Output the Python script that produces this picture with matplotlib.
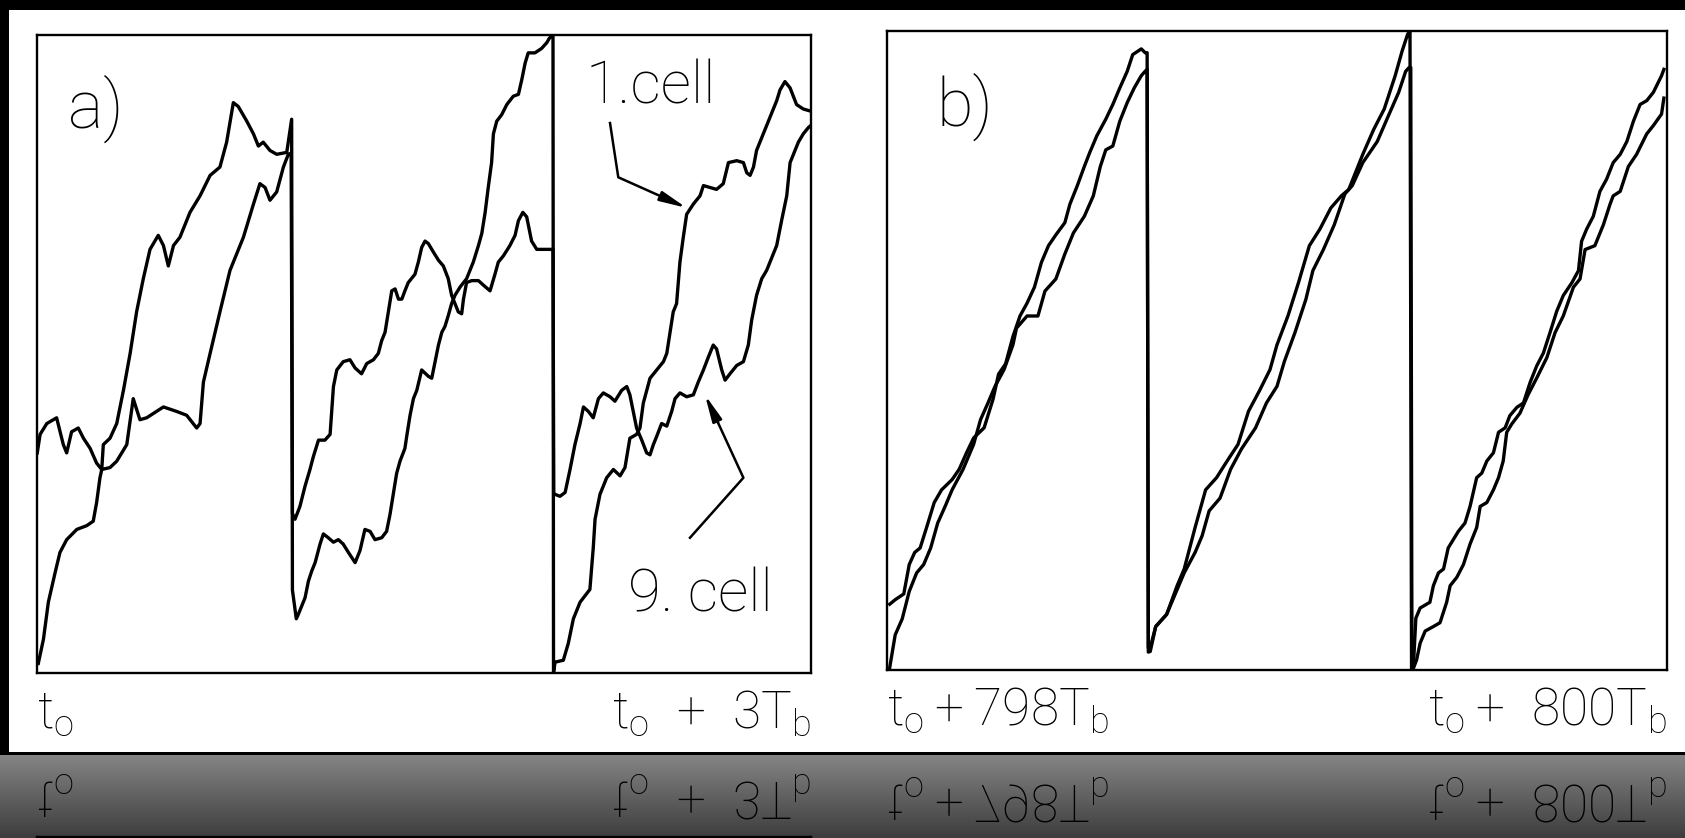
import numpy as np
import matplotlib
matplotlib.use("Agg")
import matplotlib.pyplot as plt
from matplotlib.patches import Rectangle

plt.rcParams['font.family'] = ['Roboto', 'DejaVu Sans']
plt.rcParams['font.weight'] = 'light'
plt.rcParams['mathtext.default'] = 'regular'

W, H, DPI = 1685, 838, 100

# ---------------- panel a: phase of cell 1 and cell 9, t in units of T_b ----------------
a_cell1_t = [0.005, 0.025, 0.044, 0.070, 0.089, 0.115, 0.154, 0.193, 0.218, 0.231,
             0.244, 0.251, 0.257, 0.283, 0.309, 0.335, 0.361, 0.386, 0.412, 0.438,
             0.470, 0.490, 0.509, 0.529, 0.554, 0.593, 0.632, 0.671, 0.709, 0.735,
             0.761, 0.780, 0.813, 0.839, 0.858, 0.877, 0.903, 0.929, 0.968, 0.987,
             0.990, 1.005, 1.013, 1.019, 1.039, 1.052, 1.065, 1.078, 1.097, 1.110,
             1.129, 1.149, 1.168, 1.187, 1.207, 1.233, 1.252, 1.271, 1.291, 1.310,
             1.336, 1.355, 1.368, 1.381, 1.394, 1.407, 1.426, 1.433, 1.446, 1.459,
             1.472, 1.491, 1.517, 1.530, 1.543, 1.556, 1.569, 1.581, 1.594, 1.607,
             1.620, 1.640, 1.665, 1.691, 1.711, 1.724, 1.737, 1.749, 1.762, 1.769,
             1.782, 1.801, 1.821, 1.846, 1.866, 1.879, 1.892, 1.904, 1.930, 1.956,
             1.976, 1.986, 2.000,
             2.002, 2.008, 2.040, 2.059, 2.079, 2.105, 2.143, 2.156, 2.163, 2.182,
             2.208, 2.234, 2.260, 2.279, 2.298, 2.324, 2.337, 2.350, 2.376, 2.402,
             2.428, 2.441, 2.466, 2.479, 2.492, 2.505, 2.518, 2.544, 2.570, 2.583,
             2.609, 2.634, 2.660, 2.680, 2.712, 2.738, 2.751, 2.764, 2.777, 2.789,
             2.815, 2.841, 2.867, 2.880, 2.899, 2.919, 2.944, 2.970, 2.996]
a_cell1_phase = [0.015, 0.053, 0.111, 0.157, 0.189, 0.209, 0.225, 0.231, 0.238, 0.267,
                 0.306, 0.319, 0.358, 0.368, 0.391, 0.443, 0.501, 0.566, 0.618, 0.664,
                 0.686, 0.670, 0.638, 0.670, 0.683, 0.722, 0.748, 0.780, 0.793, 0.832,
                 0.894, 0.888, 0.865, 0.845, 0.826, 0.832, 0.819, 0.813, 0.816, 0.868,
                 0.130, 0.085, 0.092, 0.098, 0.118, 0.144, 0.160, 0.173, 0.202, 0.218,
                 0.212, 0.205, 0.209, 0.202, 0.189, 0.173, 0.192, 0.225, 0.222, 0.209,
                 0.212, 0.222, 0.248, 0.280, 0.313, 0.332, 0.352, 0.371, 0.404, 0.430,
                 0.443, 0.475, 0.465, 0.462, 0.488, 0.514, 0.534, 0.543, 0.560, 0.579,
                 0.592, 0.605, 0.618, 0.644, 0.670, 0.689, 0.722, 0.761, 0.800, 0.845,
                 0.865, 0.875, 0.891, 0.904, 0.907, 0.930, 0.956, 0.972, 0.972, 0.979,
                 0.988, 0.995, 1.000,
                 0.000, 0.017, 0.020, 0.046, 0.085, 0.111, 0.131, 0.196, 0.241, 0.280,
                 0.306, 0.319, 0.309, 0.322, 0.368, 0.374, 0.384, 0.423, 0.462, 0.475,
                 0.488, 0.501, 0.566, 0.579, 0.644, 0.683, 0.719, 0.735, 0.748, 0.764,
                 0.761, 0.758, 0.767, 0.800, 0.803, 0.800, 0.784, 0.780, 0.793, 0.819,
                 0.845, 0.871, 0.897, 0.914, 0.927, 0.917, 0.891, 0.884, 0.881]

a_cell9_t = [0.001, 0.012, 0.038, 0.076, 0.102, 0.115, 0.134, 0.160, 0.180, 0.206,
             0.231, 0.251, 0.283, 0.309, 0.348, 0.373, 0.399, 0.425, 0.490, 0.541,
             0.580, 0.619, 0.632, 0.645, 0.671, 0.709, 0.748, 0.800, 0.839, 0.864,
             0.884, 0.903, 0.929, 0.955, 0.974, 0.985, 0.990, 1.000,
             1.019, 1.039, 1.058, 1.071, 1.091, 1.116, 1.136, 1.149, 1.162, 1.187,
             1.213, 1.233, 1.258, 1.278, 1.304, 1.323, 1.336, 1.349, 1.362, 1.375,
             1.388, 1.401, 1.414, 1.426, 1.439, 1.465, 1.478, 1.491, 1.504, 1.517,
             1.536, 1.556, 1.575, 1.594, 1.607, 1.620, 1.633, 1.646, 1.653, 1.665,
             1.685, 1.711, 1.730, 1.756, 1.775, 1.788, 1.808, 1.833, 1.853, 1.866,
             1.883, 1.898, 1.917, 1.937, 1.963, 1.986, 2.000, 2.003,
             2.008, 2.027, 2.047, 2.066, 2.085, 2.105, 2.118, 2.137, 2.156, 2.176,
             2.195, 2.221, 2.240, 2.266, 2.286, 2.298, 2.311, 2.324, 2.344, 2.363,
             2.376, 2.389, 2.402, 2.421, 2.441, 2.460, 2.473, 2.492, 2.518, 2.544,
             2.563, 2.583, 2.602, 2.621, 2.634, 2.654, 2.667, 2.686, 2.712, 2.738,
             2.757, 2.770, 2.789, 2.809, 2.828, 2.848, 2.867, 2.886, 2.906, 2.919,
             2.932, 2.951, 2.970, 2.990, 2.999]
a_cell9_phase = [0.345, 0.374, 0.391, 0.400, 0.358, 0.345, 0.378, 0.384, 0.368, 0.352,
                 0.329, 0.319, 0.322, 0.332, 0.358, 0.430, 0.397, 0.400, 0.417, 0.410,
                 0.404, 0.384, 0.391, 0.456, 0.501, 0.566, 0.631, 0.683, 0.735, 0.767,
                 0.761, 0.741, 0.754, 0.793, 0.813, 0.815, 0.250, 0.241,
                 0.261, 0.293, 0.319, 0.339, 0.365, 0.365, 0.374, 0.449, 0.475, 0.488,
                 0.491, 0.478, 0.469, 0.485, 0.491, 0.501, 0.521, 0.534, 0.566, 0.599,
                 0.602, 0.586, 0.586, 0.599, 0.612, 0.625, 0.644, 0.667, 0.677, 0.673,
                 0.660, 0.647, 0.638, 0.618, 0.592, 0.579, 0.566, 0.563, 0.586, 0.612,
                 0.615, 0.615, 0.608, 0.599, 0.625, 0.644, 0.654, 0.670, 0.686, 0.709,
                 0.722, 0.715, 0.677, 0.664, 0.664, 0.664, 0.664, 0.280,
                 0.280, 0.277, 0.283, 0.319, 0.358, 0.391, 0.417, 0.410, 0.400, 0.430,
                 0.439, 0.433, 0.426, 0.443, 0.449, 0.436, 0.410, 0.384, 0.365, 0.345,
                 0.342, 0.358, 0.371, 0.391, 0.387, 0.410, 0.430, 0.439, 0.433, 0.436,
                 0.456, 0.475, 0.495, 0.514, 0.508, 0.475, 0.459, 0.469, 0.482, 0.488,
                 0.514, 0.553, 0.592, 0.618, 0.631, 0.651, 0.670, 0.709, 0.748, 0.800,
                 0.813, 0.832, 0.845, 0.855, 0.858]

# ---------------- panel b: the same two cells much later ----------------
b_cell1_t = [798.007, 798.021, 798.043, 798.057, 798.071, 798.085, 798.103, 798.121, 798.140, 798.167,
             798.185, 798.204, 798.222, 798.249, 798.272, 798.286, 798.304, 798.323, 798.341, 798.359,
             798.378, 798.396, 798.414, 798.433, 798.456, 798.469, 798.488, 798.506, 798.520, 798.538,
             798.561, 798.579, 798.597, 798.616, 798.630, 798.652, 798.662, 798.667, 798.670,
             798.675, 798.689, 798.717, 798.744, 798.762, 798.790, 798.817, 798.845, 798.872, 798.900,
             798.927, 798.955, 798.982, 799.000, 799.028, 799.055, 799.083, 799.110, 799.138, 799.165,
             799.184, 799.220, 799.248, 799.275, 799.303, 799.321, 799.335, 799.341, 799.345,
             799.350, 799.356, 799.367, 799.392, 799.401, 799.414, 799.427, 799.439, 799.452, 799.465,
             799.482, 799.495, 799.512, 799.525, 799.538, 799.555, 799.568, 799.585, 799.597, 799.615,
             799.632, 799.649, 799.666, 799.683, 799.700, 799.717, 799.734, 799.756, 799.773, 799.781,
             799.794, 799.811, 799.828, 799.845, 799.862, 799.880, 799.897, 799.914, 799.931, 799.948,
             799.965, 799.986, 799.992]
b_cell1_phase = [0.103, 0.110, 0.119, 0.165, 0.184, 0.191, 0.226, 0.262, 0.282, 0.298,
                 0.314, 0.340, 0.363, 0.379, 0.424, 0.463, 0.479, 0.522, 0.554, 0.574,
                 0.599, 0.638, 0.664, 0.681, 0.700, 0.729, 0.758, 0.788, 0.810, 0.836,
                 0.862, 0.885, 0.911, 0.937, 0.963, 0.972, 0.966, 0.966, 0.035,
                 0.035, 0.068, 0.087, 0.132, 0.158, 0.223, 0.282, 0.301, 0.327, 0.353,
                 0.405, 0.437, 0.470, 0.509, 0.554, 0.606, 0.664, 0.690, 0.723, 0.742,
                 0.752, 0.807, 0.846, 0.878, 0.930, 0.969, 0.995, 1.000, 0.000,
                 0.009, 0.081, 0.097, 0.106, 0.132, 0.152, 0.158, 0.191, 0.204, 0.217,
                 0.230, 0.256, 0.301, 0.308, 0.327, 0.340, 0.372, 0.379, 0.398, 0.411,
                 0.418, 0.450, 0.476, 0.496, 0.528, 0.561, 0.586, 0.606, 0.625, 0.671,
                 0.690, 0.710, 0.749, 0.768, 0.794, 0.807, 0.827, 0.859, 0.885, 0.891,
                 0.904, 0.930, 0.940]

b_cell9_t = [798.007, 798.021, 798.039, 798.057, 798.076, 798.094, 798.112, 798.130, 798.149, 798.167,
             798.195, 798.222, 798.240, 798.259, 798.277, 798.300, 798.323, 798.332, 798.359, 798.387,
             798.405, 798.433, 798.456, 798.478, 798.506, 798.529, 798.547, 798.561, 798.579, 798.597,
             798.616, 798.634, 798.652, 798.662, 798.667, 798.670,
             798.675, 798.689, 798.717, 798.744, 798.762, 798.790, 798.808, 798.826, 798.854, 798.881,
             798.909, 798.945, 798.973, 799.000, 799.019, 799.046, 799.074, 799.092, 799.119, 799.147,
             799.174, 799.193, 799.220, 799.257, 799.284, 799.312, 799.330, 799.339, 799.343, 799.346,
             799.350, 799.358, 799.367, 799.380, 799.401, 799.418, 799.435, 799.444, 799.461, 799.478,
             799.495, 799.512, 799.521, 799.538, 799.555, 799.568, 799.580, 799.589, 799.602, 799.623,
             799.644, 799.666, 799.692, 799.713, 799.734, 799.760, 799.777, 799.790, 799.815, 799.837,
             799.854, 799.862, 799.880, 799.901, 799.922, 799.948, 799.965, 799.986, 799.992]
b_cell9_phase = [0.004, 0.055, 0.080, 0.123, 0.152, 0.165, 0.191, 0.230, 0.256, 0.282,
                 0.314, 0.353, 0.392, 0.418, 0.444, 0.470, 0.509, 0.535, 0.554, 0.554,
                 0.593, 0.612, 0.651, 0.684, 0.710, 0.742, 0.788, 0.814, 0.820, 0.859,
                 0.888, 0.911, 0.930, 0.937, 0.940, 0.028,
                 0.029, 0.068, 0.087, 0.126, 0.152, 0.184, 0.210, 0.249, 0.269, 0.314,
                 0.346, 0.379, 0.418, 0.444, 0.483, 0.528, 0.580, 0.625, 0.658, 0.697,
                 0.745, 0.758, 0.794, 0.827, 0.865, 0.904, 0.937, 0.943, 0.943, 0.003,
                 0.003, 0.016, 0.042, 0.061, 0.068, 0.074, 0.106, 0.132, 0.145, 0.165,
                 0.197, 0.223, 0.256, 0.262, 0.282, 0.301, 0.327, 0.372, 0.385, 0.402,
                 0.431, 0.457, 0.489, 0.528, 0.554, 0.599, 0.612, 0.658, 0.664, 0.697,
                 0.729, 0.742, 0.749, 0.788, 0.807, 0.839, 0.852, 0.870, 0.895]

a_xticks = [0, 3]
a_xlabels = [r'$t_o$', r'$t_o\ +\ 3T_b$']
b_xticks = [798, 800]
b_xlabels = [r'$t_o+798T_b$', r'$t_o+\ 800T_b$']

# ---------------- figure ----------------
fig = plt.figure(figsize=(W / DPI, H / DPI), dpi=DPI, facecolor='white')
ax_a = fig.add_axes([37 / W, (H - 673) / H, 774 / W, 638 / H])
ax_b = fig.add_axes([887 / W, (H - 670) / H, 780 / W, 639 / H])

line_kw = dict(color='black', lw=2.4, solid_joinstyle='round')
ax_a.plot(a_cell1_t, a_cell1_phase, **line_kw)
ax_a.plot(a_cell9_t, a_cell9_phase, **line_kw)
ax_b.plot(b_cell1_t, b_cell1_phase, **line_kw)
ax_b.plot(b_cell9_t, b_cell9_phase, **line_kw)

ax_a.set_xlim(0, 3)
ax_b.set_xlim(798, 800)
for ax, ticks, labels in ((ax_a, a_xticks, a_xlabels), (ax_b, b_xticks, b_xlabels)):
    ax.set_ylim(0, 1)
    ax.set_yticks([])
    ax.set_xticks(ticks, labels=labels)
    ax.tick_params(axis='x', length=0, pad=11, labelsize=37, labelcolor='black')
    for lbl, ha in zip(ax.get_xticklabels(), ('left', 'right')):
        lbl.set_ha(ha)
    for sp in ax.spines.values():
        sp.set_linewidth(1.7)
        sp.set_color('black')

txt_kw = dict(color='black')
ax_a.text(0.040, 0.885, 'a)', transform=ax_a.transAxes, fontsize=48,
          ha='left', va='center', **txt_kw)
ax_b.text(0.064, 0.882, 'b)', transform=ax_b.transAxes, fontsize=48,
          ha='left', va='center', **txt_kw)
ax_a.text(2.125, 0.892, '1.cell', fontsize=43, ha='left', va='baseline', **txt_kw)
ax_a.text(2.290, 0.096, '9. cell', fontsize=43, ha='left', va='baseline', **txt_kw)

# pointer lines from the cell labels to their traces
arrow_kw = dict(arrowstyle='-|>,head_length=1.6,head_width=0.3', color='black',
                lw=1.8, shrinkA=0, shrinkB=0)
ax_a.plot([2.221, 2.253, 2.43], [0.862, 0.777, 0.745], color='black', lw=1.8)
ax_a.annotate('', xy=(2.518, 0.729), xytext=(2.43, 0.745), arrowprops=arrow_kw)
ax_a.plot([2.531, 2.738, 2.64], [0.212, 0.306, 0.392], color='black', lw=1.8)
ax_a.annotate('', xy=(2.589, 0.436), xytext=(2.64, 0.392), arrowprops=arrow_kw)

# ---------------- mirrored strip below the plots ----------------
fig.canvas.draw()
buf = np.asarray(fig.canvas.buffer_rgba())[:, :, :3].astype(float) / 255.0
h, w = buf.shape[:2]
mirror_line = 755
sep = 3
n = h - mirror_line
src = buf[mirror_line - n:mirror_line][::-1]
shade = np.linspace(0.52, 0.24, n)[:, None, None]
band = np.clip(src * shade, 0, 1)
strip = np.vstack([np.zeros((sep, w, 3)), band])
fig.figimage(strip, xo=0, yo=0, origin='upper', zorder=10)

# dark scan border on the top and left
fig.add_artist(Rectangle((0, 1 - 10 / H), 1, 10 / H, transform=fig.transFigure,
                         facecolor='black', edgecolor='none', zorder=20))
fig.add_artist(Rectangle((0, (h - mirror_line + sep) / H), 9 / W, 1, transform=fig.transFigure,
                         facecolor='black', edgecolor='none', zorder=20))

fig.savefig('out.png', dpi=DPI, facecolor='white')
